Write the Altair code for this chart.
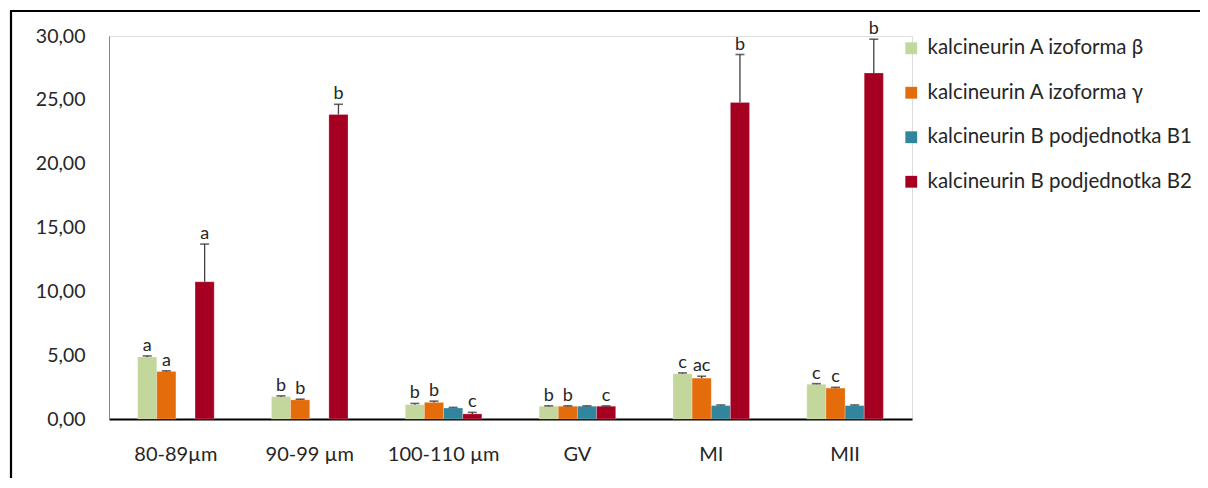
import altair as alt
import pandas as pd

categories = ["80-89µm", "90-99 µm", "100-110 µm", "GV", "MI", "MII"]
series = ["kalcineurin A izoforma β", "kalcineurin A izoforma γ",
          "kalcineurin B podjednotka B1", "kalcineurin B podjednotka B2"]
colors = ["#C3D69B", "#E46C0A", "#31859C", "#A50021"]

# values per series, in category order (None = no bar)
beta_vals = [4.86, 1.75, 1.12, 1.0, 3.55, 2.72]
gamma_vals = [3.72, 1.50, 1.30, 1.0, 3.20, 2.42]
b1_vals = [None, None, 0.86, 1.0, 1.05, 1.05]
b2_vals = [10.75, 23.85, 0.40, 1.0, 24.80, 27.10]

beta_err = [0.08, 0.06, 0.10, 0.03, 0.06, 0.05]
gamma_err = [0.05, 0.05, 0.10, 0.03, 0.15, 0.06]
b1_err = [None, None, 0.05, 0.03, 0.05, 0.05]
b2_err = [2.95, 0.80, 0.12, 0.03, 3.75, 2.65]

beta_lab = ["a", "b", "b", "b", "c", "c"]
gamma_lab = ["a", "b", "b", "b", "ac", "c"]
b1_lab = ["", "", "", "", "", ""]
b2_lab = ["a", "b", "c", "c", "b", "b"]

rows = []
for s, vals, errs, labs in [
    (series[0], beta_vals, beta_err, beta_lab),
    (series[1], gamma_vals, gamma_err, gamma_lab),
    (series[2], b1_vals, b1_err, b1_lab),
    (series[3], b2_vals, b2_err, b2_lab),
]:
    for c, v, e, l in zip(categories, vals, errs, labs):
        if v is None:
            continue
        rows.append({"cat": c, "series": s, "value": v, "err": e,
                     "top": v + e, "label": l})
df = pd.DataFrame(rows)

FONT = "Lato"
TXT = "#262626"

x_enc = alt.X("cat:N", sort=categories, title=None,
              scale=alt.Scale(paddingInner=0.428, paddingOuter=0.214),
              axis=alt.Axis(labelAngle=0, ticks=False, domainColor="#000000",
                            domainWidth=2, labelFontSize=20, labelFont=FONT,
                            labelColor=TXT, labelPadding=25))
xo_enc = alt.XOffset("series:N", sort=series,
                     scale=alt.Scale(domain=series, paddingInner=0, paddingOuter=0))
y_scale = alt.Scale(domain=[0, 30], nice=False)

base = alt.Chart(df)

bars = base.mark_bar(stroke="#ffffff", strokeWidth=0.4, strokeOpacity=0.6).encode(
    x=x_enc,
    xOffset=xo_enc,
    y=alt.Y("value:Q", scale=y_scale, title=None,
            axis=alt.Axis(values=[0, 5, 10, 15, 20, 25, 30], grid=False, ticks=False,
                          domainColor="#868686", domainWidth=1,
                          labelExpr="replace(format(datum.value, '.2f'), '.', ',')",
                          labelFontSize=19.5, labelFont=FONT, labelColor=TXT,
                          labelPadding=24)),
    color=alt.Color("series:N", sort=series,
                    scale=alt.Scale(domain=series, range=colors),
                    legend=alt.Legend(title=None, orient="none", legendX=792, legendY=2,
                                      symbolType="square", symbolSize=140,
                                      symbolStrokeWidth=0, labelFontSize=20.5,
                                      labelFont=FONT, labelColor=TXT,
                                      rowPadding=23.5, labelOffset=6,
                                      labelLimit=400)),
)

err_rule = base.mark_rule(color="#404040", strokeWidth=1.3).encode(
    x=alt.X("cat:N", sort=categories),
    xOffset=xo_enc,
    y=alt.Y("value:Q", scale=y_scale),
    y2="top:Q",
)

err_cap = base.mark_tick(color="#262626", thickness=1.6, size=9).encode(
    x=alt.X("cat:N", sort=categories),
    xOffset=xo_enc,
    y=alt.Y("top:Q", scale=y_scale),
)

labels = base.mark_text(baseline="bottom", dy=-1, fontSize=18, font=FONT,
                        color=TXT).encode(
    x=alt.X("cat:N", sort=categories),
    xOffset=xo_enc,
    y=alt.Y("top:Q", scale=y_scale),
    text="label:N",
)

frame_src = alt.Chart(pd.DataFrame({"f": [0]}))
frame_top = frame_src.mark_rule(color="#000000", strokeWidth=2.2).encode(
    x=alt.value(-99), x2=alt.value(1200), y=alt.value(-25))
frame_left = frame_src.mark_rule(color="#000000", strokeWidth=2.2).encode(
    x=alt.value(-98), y=alt.value(-26), y2=alt.value(600))

chart = alt.layer(frame_top, frame_left, bars, err_rule, err_cap, labels).properties(
    width=803, height=383,
    autosize=alt.AutoSizeParams(type="none"),
    padding={"left": 101, "top": 28, "right": 288, "bottom": 59},
).configure_view(stroke=None).configure(background="#ffffff")

chart.save("out.html", embed_options={"renderer": "svg", "actions": False})
